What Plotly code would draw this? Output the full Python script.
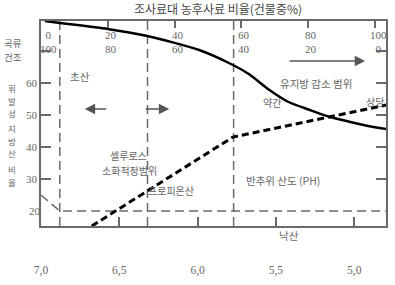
import plotly.graph_objects as go

# ---- data ----
ph_ticks = [7.0, 6.5, 6.0, 5.5, 5.0]
ph_labels = ["7,0", "6,5", "6,0", "5,5", "5,0"]
roughage_ticks = [0, 20, 40, 60, 80, 100]
roughage_labels = ["0", "20", "40", "60", "80", "100"]
concentrate_labels = ["100", "80", "60", "40", "20", "0"]
vfa_ticks = [30, 40, 50, 60, 70]
vfa_labels = ["30", "40", "50", "60", ""]
vfa_low_tick = [20]
vfa_low_label = ["20"]

# acetate (solid) curve: pH vs VFA %
acetate_ph = [6.975, 6.879, 6.575, 6.321, 5.990, 5.800, 5.673, 5.546,
              5.419, 5.292, 5.165, 5.038, 4.911, 4.797]
acetate_val = [79.375, 78.75, 76.875, 74.69, 70.31, 66.25, 62.81, 58.0,
               54.06, 51.72, 49.53, 47.97, 46.56, 45.625]
# propionate (bold dashed) curve
propionate_ph = [6.676, 5.775, 4.797]
propionate_val = [15.3, 43.1, 53.1]
# butyrate (thin dashed) line
butyrate_ph = [7.0, 6.88, 4.797]
butyrate_val = [25.0, 20.0, 20.0]
# zone boundaries (pH)
zone_ph = [6.88, 6.32, 5.77]

X_RANGE = [7.0, 4.797]
Y_RANGE = [15.31, 79.375]
TOP_RANGE = [0, 103.27]

GRAY = "#6a6a6a"
TXT = "#666666"
KFONT = "Noto Sans CJK KR"
NFONT = "Liberation Serif, DejaVu Serif, serif"

W, H = 395, 285
L, R, T, B = 41, 7, 21, 24
PLOT_BOTTOM = 226
PW = W - L - R
PAPER_H = H - T - B
Y_DOMAIN = [(H - B - PLOT_BOTTOM) / PAPER_H, 1.0]

fig = go.Figure()

# zone boundary verticals
vx, vy = [], []
for p in zone_ph:
    vx += [p, p, None]
    vy += [Y_RANGE[0], Y_RANGE[1], None]
fig.add_trace(go.Scatter(x=vx, y=vy, mode="lines",
                         line=dict(color=GRAY, width=1.5, dash="9px,5px"),
                         hoverinfo="skip"))
# butyrate dashed
fig.add_trace(go.Scatter(x=butyrate_ph, y=butyrate_val, mode="lines",
                         line=dict(color=GRAY, width=1.5, dash="9px,5px"),
                         hoverinfo="skip"))
# acetate
fig.add_trace(go.Scatter(x=acetate_ph, y=acetate_val, mode="lines",
                         line=dict(color="black", width=2.5, shape="spline",
                                   smoothing=0.7),
                         hoverinfo="skip"))
# propionate
fig.add_trace(go.Scatter(x=propionate_ph, y=propionate_val, mode="lines",
                         line=dict(color="black", width=3, dash="7px,4px"),
                         hoverinfo="skip"))
# dummy traces for overlay axes
fig.add_trace(go.Scatter(x=[50], y=[50], xaxis="x2", yaxis="y", mode="markers",
                         marker=dict(opacity=0), hoverinfo="skip"))
fig.add_trace(go.Scatter(x=[6.0], y=[50], xaxis="x", yaxis="y2", mode="markers",
                         marker=dict(opacity=0), hoverinfo="skip"))
fig.add_trace(go.Scatter(x=[6.0], y=[50], xaxis="x3", yaxis="y", mode="markers",
                         marker=dict(opacity=0), hoverinfo="skip"))


def pp(xp, yp):
    return (xp - L) / PW, (H - B - yp) / PAPER_H


def txt(s, xp, yp, size=10.5, color=TXT):
    x, y = pp(xp, yp)
    return dict(text=s, x=x, y=y, xref="paper", yref="paper", showarrow=False,
                xanchor="center", yanchor="middle",
                font=dict(family=KFONT, size=size, color=color))


def arrow(hx, hy, dx):
    x, y = pp(hx, hy)
    return dict(text="", x=x, y=y, xref="paper", yref="paper", showarrow=True,
                ax=dx, ay=0, arrowhead=2, arrowsize=1.3, arrowwidth=1.6,
                arrowcolor="#555555", standoff=0)


anns = [
    txt("초산", 80, 76),
    txt("셀루로스", 129, 155, 10),
    txt("소화적정범위", 130, 170, 10),
    txt("프로피온산", 172, 190, 10),
    txt("반추위 산도 (PH)", 284, 180, 10.5),
    txt("낙산", 290, 235, 10.5),
    txt("유지방 감소 범위", 318, 83, 10.5),
    txt("약간", 273, 102, 10),
    txt("상당", 377, 101, 10),
    txt("곡류", 12.5, 43, 9.5),
    txt("건조", 12.5, 57, 9.5),
    arrow(85, 109, 23),
    arrow(170, 109, -25),
    arrow(367, 61, -77),
]
for ch, yp in zip("휘발성지방산비율", [88, 100.5, 113, 128, 140.5, 153, 169, 181.5]):
    anns.append(txt(ch, 12, yp, 8.5))

# top axis two-line labels placed through the x2 scale
for v, a, b in zip(roughage_ticks, roughage_labels, concentrate_labels):
    anns.append(dict(text=f"{a}<br>{b}", x=v, y=pp(0, 42)[1], xref="x2", yref="paper",
                     xshift=7 if v == 0 else 3, showarrow=False,
                     xanchor="center", yanchor="middle",
                     font=dict(family=NFONT, size=11, color=TXT)))

fig.update_layout(
    width=W, height=H,
    margin=dict(l=L, r=R, t=T, b=B, pad=0),
    paper_bgcolor="white", plot_bgcolor="white",
    showlegend=False,
    title=dict(text="조사료대 농후사료 비율(건물중%)", x=218 / W, y=1 - 10 / H,
               xref="container", yref="container", xanchor="center", yanchor="middle",
               font=dict(family=KFONT, size=12, color="#444444")),
    xaxis=dict(range=X_RANGE, tickvals=ph_ticks, showticklabels=False,
               ticks="inside", ticklen=9, tickwidth=1.5, tickcolor=GRAY,
               showline=True, linecolor=GRAY, linewidth=1.5, mirror=True,
               showgrid=False, zeroline=False, anchor="y"),
    xaxis2=dict(range=TOP_RANGE, overlaying="x", side="top", anchor="y",
                tickvals=roughage_ticks, showticklabels=False,
                ticks="inside", ticklen=7, tickwidth=1.5, tickcolor=GRAY,
                showline=False, showgrid=False, zeroline=False),
    xaxis3=dict(range=X_RANGE, overlaying="x", anchor="free", position=0,
                side="bottom", tickvals=ph_ticks, ticktext=ph_labels, ticks="",
                showline=False, showgrid=False, zeroline=False,
                tickfont=dict(family=NFONT, size=11.5, color=TXT)),
    yaxis=dict(range=Y_RANGE, domain=Y_DOMAIN, tickvals=vfa_ticks, ticktext=vfa_labels,
               ticks="inside", ticklen=10, tickwidth=1.5, tickcolor=GRAY,
               showline=True, linecolor=GRAY, linewidth=1.5, mirror="ticks",
               showgrid=False, zeroline=False,
               tickfont=dict(family=NFONT, size=11, color=TXT)),
    yaxis2=dict(range=Y_RANGE, overlaying="y", side="left", anchor="x",
                tickvals=vfa_low_tick, ticktext=vfa_low_label, ticks="",
                showline=False, showgrid=False, zeroline=False,
                tickfont=dict(family=NFONT, size=11, color=TXT)),
    annotations=anns,
)

fig.write_html("out.html")
